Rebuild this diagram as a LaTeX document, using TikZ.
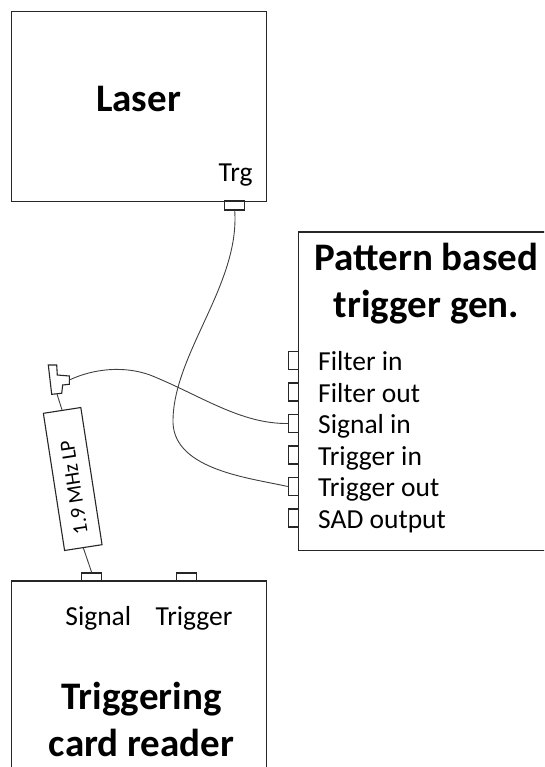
\documentclass[tikz,border=0pt]{standalone}
\usepackage{fontspec}
\setmainfont{Carlito}
\begin{document}
\begin{tikzpicture}[x=1pt,y=-1pt,
    box/.style={draw=black!85,line width=1.3pt,inner sep=0pt},
    port/.style={draw=black!85,line width=1.1pt,inner sep=0pt,fill=white},
    cable/.style={draw=black!75,line width=0.9pt},
    title/.style={font=\bfseries\fontsize{39}{47}\selectfont,align=center,inner sep=0pt},
    lbl/.style={font=\fontsize{27.5}{30}\selectfont,inner sep=0pt}]
\clip (0,0) rectangle (544,767);

\node[box,minimum width=255pt,minimum height=190pt] (laser) at (139.2,106.7) {};
\node[box,minimum width=251.7pt,minimum height=318.7pt] (gen) at (424.2,391.3) {};
\node[box,minimum width=255pt,minimum height=194pt] (reader) at (139.2,678) {};

\node[title,anchor=base] (lasertxt) at (138.5,111.7) {Laser};
\node[title] (gentxt) at (426.5,284) {Pattern based\\trigger gen.};
\node[title] (readertxt) at (141.5,719) {Triggering\\card reader};

\node[port,minimum width=20pt,minimum height=9pt] (trg) at (234.7,205.5) {};
\node[lbl,anchor=base] (trglbl) at (235.5,181.7) {Trg};

\node[port,minimum width=20pt,minimum height=8pt] (sig) at (91.7,577) {};
\node[port,minimum width=20pt,minimum height=8pt] (trig) at (186.5,577) {};
\node[lbl,anchor=base] (siglbl) at (98.3,625) {Signal};
\node[lbl,anchor=base] (triglbl) at (194,625) {Trigger};

\foreach \lbl [count=\i] in {Filter in,Filter out,Signal in,Trigger in,Trigger out,SAD output}{
  \node[port,minimum width=10pt,minimum height=18pt] (p\i) at (293.3,{329+31.5*\i}) {};
  \node[lbl,anchor=base west] (l\i) at (318,{339+31.5*\i}) {\lbl};
}

\node[box,line width=1.1pt,fill=white,minimum width=138.8pt,minimum height=37.9pt,
    rotate=98.8,font=\fontsize{21}{24}\selectfont] (lp) at (72.7,479) {1.9 MHz LP\hspace*{17pt}};

\draw[draw=black!85,line width=1.1pt,fill=white] (48.3,365) -- (56.7,365) -- (57.3,375)
    -- (69.3,376) -- (69.3,384.3) -- (62.7,385) -- (61.7,393.3) -- (51.7,394.3) -- cycle;
\coordinate (teeS) at (57,394);
\coordinate (teeR) at (69.3,380);

\draw[cable] (teeS) -- (lp.east);
\draw[cable] (lp.west) -- (sig.north);

\draw[cable] (teeR) .. controls (95,368) and (125,366) .. (150,375)
    .. controls (200,395) and (240,424) .. (p3.west);
\draw[cable] (trg.south) .. controls (240,285) and (172,355) .. (173,423)
    .. controls (175,470) and (250,478) .. (p5.west);
\end{tikzpicture}
\end{document}
